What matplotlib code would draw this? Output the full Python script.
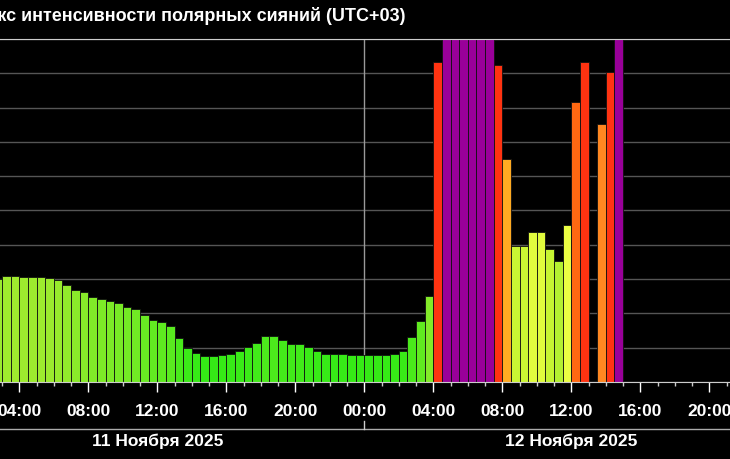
import matplotlib
matplotlib.use("Agg")
import matplotlib.pyplot as plt
import numpy as np
from matplotlib.colors import LinearSegmentedColormap

plt.rcParams['font.family'] = ['Liberation Sans', 'DejaVu Sans']

# half-hour bars; hours since 00:00 on 11 Nov
tops_day1 = [62, 52, 52, 55, 55, 55, 58, 65, 77, 95, 100, 115, 122, 128, 133, 143, 152, 168, 185,
             190, 202, 238, 268, 282, 292, 292, 288, 285, 276, 266, 252, 233, 232, 245, 256, 256,
             266, 278, 285, 285, 285, 288, 288, 290, 290, 288, 285, 276, 236, 188, 112]
values1 = [round((370 - t) / 103, 2) for t in tops_day1]
starts1 = [2.5 + 0.5 * i for i in range(len(values1))]

starts2 = [28.0, 28.5, 29.0, 29.5, 30.0, 30.5, 31.0, 31.5, 32.0, 32.5, 33.0, 33.5, 34.0, 34.5,
           35.0, 35.5, 36.0, 36.5, 37.5, 38.0, 38.5]
values2 = [9.34, 10.5, 10.5, 10.5, 10.5, 10.5, 10.5, 9.23, 6.5, 3.97, 3.97, 4.38, 4.36, 3.89,
           3.52, 4.57, 8.15, 9.34, 7.51, 9.05, 10.5]

starts = starts1 + starts2
values = values1 + values2

tick_hours = [4, 8, 12, 16, 20, 24, 28, 32, 36, 40, 44]
tick_labels = ["04:00", "08:00", "12:00", "16:00", "20:00", "00:00", "04:00", "08:00",
               "12:00", "16:00", "20:00"]
dates = ["11 Ноября 2025", "12 Ноября 2025"]
title = "Индекс интенсивности полярных сияний (UTC+03)"

cmap = LinearSegmentedColormap.from_list("aur", [
    (0.0, "#22e811"), (0.1, "#3cea18"), (0.3, "#9aea2e"), (0.4, "#ccf533"),
    (0.46, "#eeff44"), (0.65, "#ffaa22"), (0.75, "#ff8822"), (0.82, "#ff6611"),
    (0.9, "#ff3311"), (0.96, "#ff3311"), (1.0, "#990099")])

def col(v):
    if v >= 10:
        return "#990099"
    return cmap(min(v / 10, 0.96))

W, H = 730, 460
fig = plt.figure(figsize=(W / 100, H / 100), dpi=100, facecolor="black")
x0h = 2.88
x1h = x0h + 730 / 17.25
ax = fig.add_axes([0, 1 - 383 / H, 1, (383 - 40) / H], facecolor="black")
ax.bar(starts, values, width=0.5, align="edge", color=[col(v) for v in values],
       edgecolor="#111111", linewidth=0.6, zorder=2)
ax.set_xlim(x0h, x1h)
ax.set_ylim(0, 10)
ax.set_yticks(range(11))
ax.yaxis.grid(True, color="#555555", linewidth=1, zorder=0)
ax.set_axisbelow(True)
ax.tick_params(axis="y", left=False, labelleft=False)
ax.axvline(24, color="#999999", linewidth=1, zorder=1)
for s in ["left", "right"]:
    ax.spines[s].set_visible(False)
ax.spines["top"].set_color("#cccccc")
ax.spines["bottom"].set_color("#cccccc")
ax.set_xticks(tick_hours)
ax.set_xticklabels(tick_labels)
ax.set_xticks(np.arange(3, 46, 1), minor=True)
ax.tick_params(axis="x", which="major", colors="white", length=7, width=1, labelsize=12.5, pad=8)
ax.tick_params(axis="x", which="minor", colors="#cccccc", length=3, width=1)
for t in ax.get_xticklabels():
    t.set_fontweight("bold")

def fx(h):
    return (h - x0h) / (x1h - x0h)

fig.add_artist(plt.Line2D([0, 1], [1 - 430 / H] * 2, color="#aaaaaa", linewidth=1))
fig.add_artist(plt.Line2D([fx(24)] * 2, [1 - 430 / H, 1 - 422 / H], color="#cccccc", linewidth=1))
for h, d in zip([12, 36], dates):
    fig.text(fx(h), 1 - 441 / H, d, color="white", fontsize=12.5, fontweight="bold",
             ha="center", va="center")
fig.text(-48 / W, 1 - 16 / H, title, color="white", fontsize=13, fontweight="bold",
         ha="left", va="center")
fig.savefig("out.png", dpi=100, facecolor="black")
